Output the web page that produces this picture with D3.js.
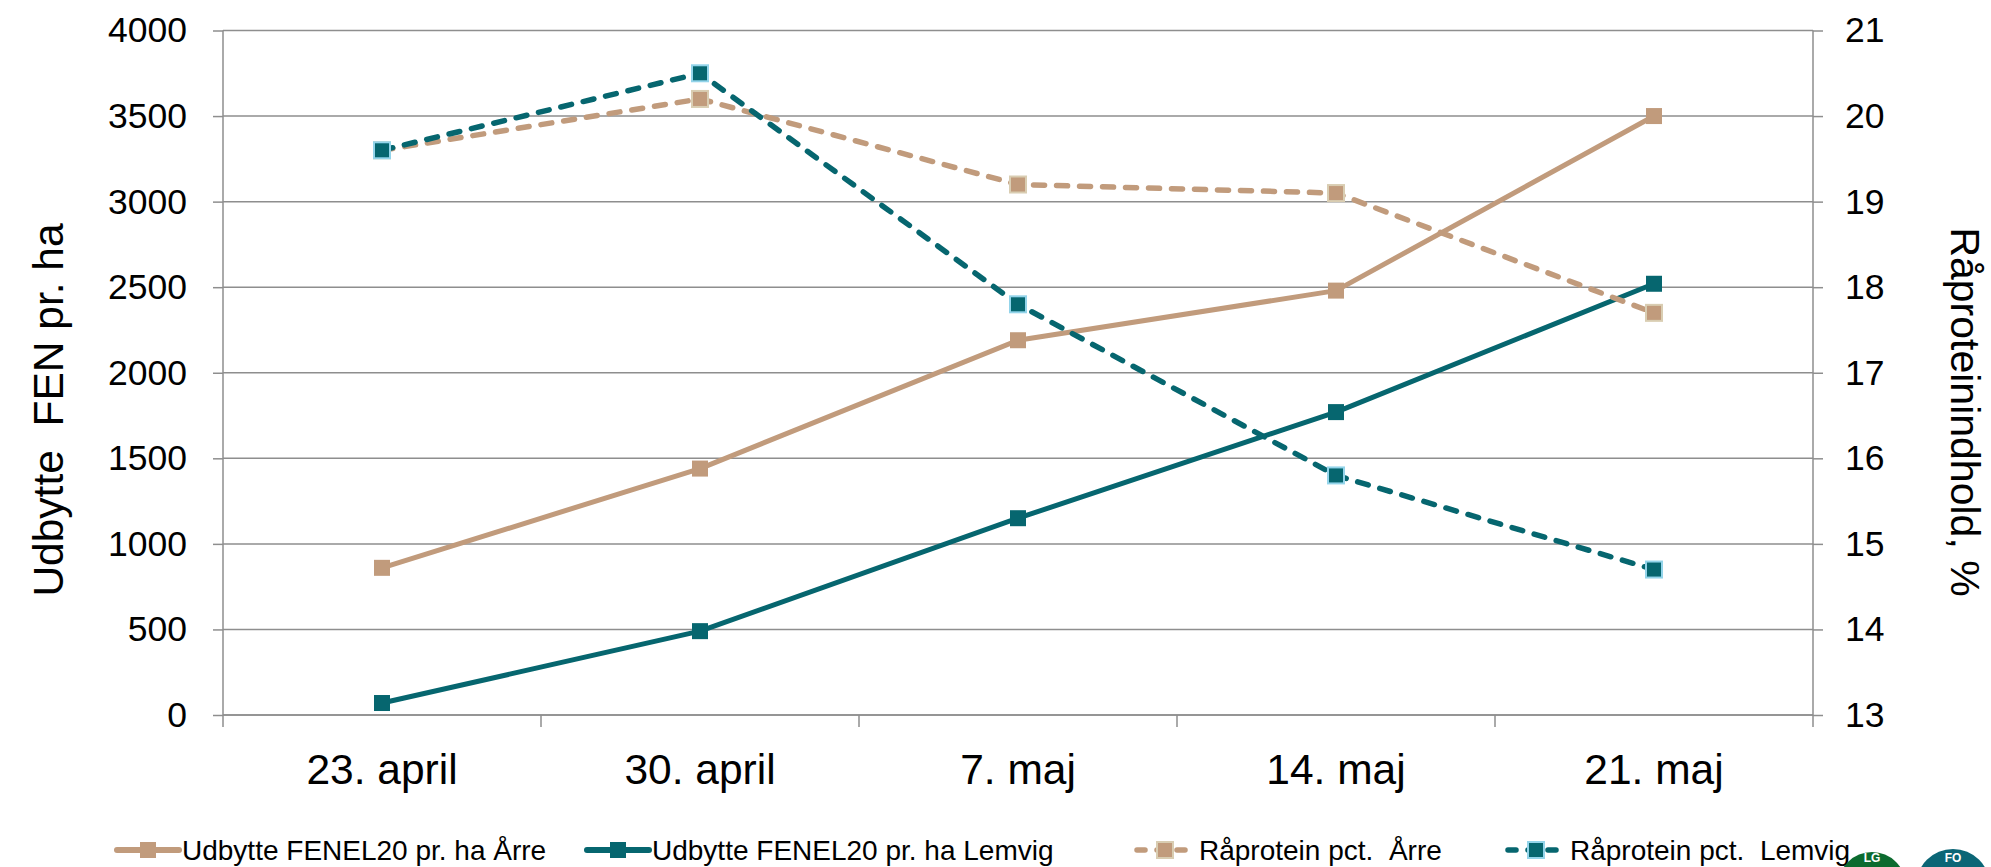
<!DOCTYPE html>
<html><head><meta charset="utf-8">
<script src="https://cdn.jsdelivr.net/npm/d3@7/dist/d3.min.js"></script>
<style>
html,body{margin:0;padding:0;background:#fff;}
svg{display:block;font-family:"Liberation Sans",Arial,sans-serif;}
</style></head>
<body>
<svg id="chart" width="1991" height="867"></svg>
<script>
const categories = ["23. april", "30. april", "7. maj", "14. maj", "21. maj"];
const udbytteAarre = [860, 1440, 2190, 2480, 3500];
const udbytteLemvig = [70, 490, 1150, 1770, 2520];
const raaproteinAarre = [19.6, 20.2, 19.2, 19.1, 17.7];
const raaproteinLemvig = [19.6, 20.5, 17.8, 15.8, 14.7];
const leftTicks = [0, 500, 1000, 1500, 2000, 2500, 3000, 3500, 4000];
const rightTicks = [13, 14, 15, 16, 17, 18, 19, 20, 21];
const seriesNames = ["Udbytte FENEL20 pr. ha Årre", "Udbytte FENEL20 pr. ha Lemvig", "Råprotein pct.  Årre", "Råprotein pct.  Lemvig"];
const leftTitle = "Udbytte  FEN pr. ha";
const rightTitle = "Råproteinindhold, %";

const TAN = "#C19B7C", TEAL = "#06666F";
const svg = d3.select("#chart");
const L = 223, R = 1813, T = 30.5, B = 715;

const x = d3.scaleBand().domain(categories).range([L, R]);
const yL = d3.scaleLinear().domain([0, 4000]).range([B, T]);
const yR = d3.scaleLinear().domain([13, 21]).range([B, T]);

// gridlines
svg.append("g").selectAll("line").data(leftTicks).join("line")
  .attr("x1", L).attr("x2", R).attr("y1", d => yL(d)).attr("y2", d => yL(d))
  .attr("stroke", "#8E8E8E").attr("stroke-width", 1.5);

// left axis
const gl = svg.append("g").attr("transform", `translate(${L},0)`)
  .call(d3.axisLeft(yL).tickValues(leftTicks).tickSize(10).tickPadding(26).tickFormat(d3.format("d")));
// right axis
const gr = svg.append("g").attr("transform", `translate(${R},0)`)
  .call(d3.axisRight(yR).tickValues(rightTicks).tickSize(10).tickPadding(22).tickFormat(d3.format("d")));
[gl, gr].forEach(g => {
  g.selectAll("path,line").attr("stroke", "#8E8E8E").attr("stroke-width", 1.5);
  g.select(".domain").attr("d", `M0,${T}V${B}`);
  g.selectAll("text").attr("font-size", 35.5).attr("fill", "#000").attr("font-family", "Liberation Sans, Arial, sans-serif");
});
// x axis
const gx = svg.append("g").attr("transform", `translate(0,${B})`)
  .call(d3.axisBottom(x).tickSize(0).tickPadding(39));
gx.select(".domain").attr("stroke", "#8E8E8E").attr("stroke-width", 1.5).attr("d", `M${L},0H${R}`);
gx.selectAll("text").attr("font-size", 42.5).attr("fill", "#000").attr("font-family", "Liberation Sans, Arial, sans-serif");
const bounds = categories.map(c => x(c)).concat([R]);
gx.selectAll(".bnd").data(bounds).join("line").attr("class", "bnd")
  .attr("x1", d => d).attr("x2", d => d).attr("y1", 0).attr("y2", 12)
  .attr("stroke", "#8E8E8E").attr("stroke-width", 1.5);

const cx = c => x(c) + x.bandwidth() / 2;

function drawSeries(vals, scale, color, dashed, markerStroke) {
  const pts = vals.map((v, i) => [cx(categories[i]), scale(v)]);
  const g = svg.append("g");
  g.append("path").attr("d", d3.line()(pts)).attr("fill", "none")
    .attr("stroke", color).attr("stroke-width", dashed ? 5.5 : 5)
    .attr("stroke-linecap", dashed ? "round" : "butt")
    .attr("stroke-linejoin", "round")
    .attr("stroke-dasharray", dashed ? "11,12" : null);
  g.selectAll("rect").data(pts).join("rect")
    .attr("x", d => d[0] - 8).attr("y", d => d[1] - 8).attr("width", 16).attr("height", 16)
    .attr("fill", color).attr("stroke", markerStroke || "none").attr("stroke-width", markerStroke ? 2 : 0);
}
drawSeries(udbytteAarre, yL, TAN, false);
drawSeries(udbytteLemvig, yL, TEAL, false);
drawSeries(raaproteinAarre, yR, TAN, true, "#D9CDB2");
drawSeries(raaproteinLemvig, yR, TEAL, true, "#93D4EA");

// axis titles
svg.append("text").attr("transform", `translate(63,410) rotate(-90)`)
  .attr("text-anchor", "middle").attr("font-size", 42.5).attr("fill", "#000")
  .attr("xml:space", "preserve").style("white-space", "pre").text(leftTitle);
svg.append("text").attr("transform", `translate(1951,412) rotate(90)`)
  .attr("text-anchor", "middle").attr("font-size", 41).attr("fill", "#000").text(rightTitle);

// legend
const legX = [117, 587, 1134, 1505];
const legColors = [TAN, TEAL, TAN, TEAL];
const legDash = [false, false, true, true];
const legStroke = [null, null, "#D9CDB2", "#93D4EA"];
const ly = 850;
seriesNames.forEach((n, i) => {
  const g = svg.append("g").attr("transform", `translate(${legX[i]},${ly})`);
  if (legDash[i]) {
    g.append("line").attr("x1", 3).attr("x2", 57).attr("y1", 0).attr("y2", 0)
      .attr("stroke", legColors[i]).attr("stroke-width", 5.5).attr("stroke-linecap", "round")
      .attr("stroke-dasharray", "8,12");
  } else {
    g.append("line").attr("x1", 0).attr("x2", 62).attr("y1", 0).attr("y2", 0)
      .attr("stroke", legColors[i]).attr("stroke-width", 6).attr("stroke-linecap", "round");
  }
  g.append("rect").attr("x", 23).attr("y", -8).attr("width", 16).attr("height", 16)
    .attr("fill", legColors[i]).attr("stroke", legStroke[i] || "none").attr("stroke-width", legStroke[i] ? 2 : 0);
  g.append("text").attr("x", 65).attr("y", 10).attr("font-size", 28).attr("fill", "#000")
    .style("white-space", "pre").text(n);
});

// logos (partially visible at the bottom-right corner)
const logos = [{cx: 1872, r: 34, c: "#0C6B2F", t: "LG"}, {cx: 1953, r: 37, c: "#0B6676", t: "FO"}];
logos.forEach(l => {
  svg.append("circle").attr("cx", l.cx).attr("cy", 886).attr("r", l.r).attr("fill", l.c);
  svg.append("text").attr("x", l.cx).attr("y", 862).attr("text-anchor", "middle")
    .attr("font-size", 12).attr("font-weight", "bold").attr("fill", "#fff").text(l.t);
});
</script>
</body></html>
